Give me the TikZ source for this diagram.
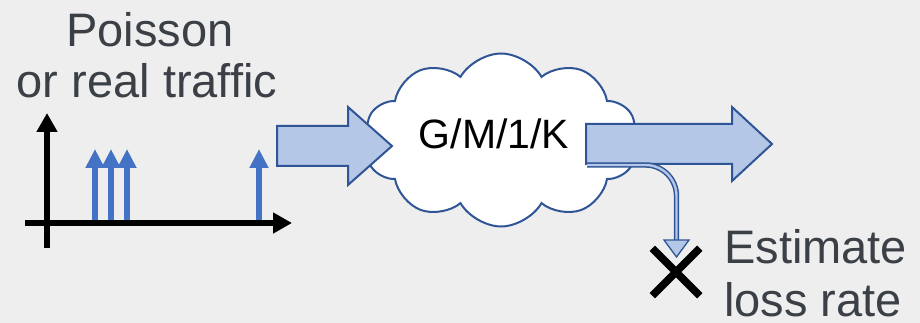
\documentclass[tikz,border=0pt]{standalone}
\usepackage{fontspec}
\setmainfont{Liberation Sans}
\usetikzlibrary{arrows.meta,shapes.symbols,shapes.misc,calc}
\definecolor{bg}{HTML}{EEEEEE}
\definecolor{dblue}{HTML}{2F5597}
\definecolor{lblue}{HTML}{B4C7E7}
\definecolor{spike}{HTML}{4472C4}
\definecolor{txt}{HTML}{3B3F46}
\tikzset{
  bigtext/.style={inner sep=0pt, text=txt, font=\fontsize{47}{51}\selectfont},
  axisline/.style={line width=6.5pt, draw=black, -{Triangle[length=19pt,width=20pt]}},
  spikeline/.style={line width=6.5pt, draw=spike, -{Triangle[length=19pt,width=18pt]}},
  blockarrow/.style={fill=lblue, draw=dblue, line width=2pt, line join=miter},
  dropline/.style={draw=dblue, double=lblue, line width=1.5pt, double distance=2.4pt, rounded corners=31pt},
}
\begin{document}
\begin{tikzpicture}[x=1pt,y=-1pt]
\fill[bg] (0,0) rectangle (920,323);
\useasboundingbox (0,0) rectangle (920,323);

% title text
\node[bigtext, anchor=base] (poisson) at (150,47) {Poisson};
\node[bigtext, anchor=base] (traffic) at (147,98) {or real traffic};

% traffic plot
\coordinate (yaxbot) at (47,248);
\coordinate (yaxtop) at (47,113);
\coordinate (xaxl) at (25,223);
\coordinate (xaxr) at (292,223);
\foreach \xx/\nm in {95/s1,111/s2,127/s3,259/s4}{
  \coordinate (\nm b) at (\xx,223);
  \coordinate (\nm t) at (\xx,149);
  \draw[spikeline] (\nm b) -- (\nm t);
}
\draw[axisline] (yaxbot) -- (yaxtop);
\draw[axisline] (xaxl) -- (xaxr);

% cloud
\node[cloud, cloud puffs=10, cloud puff arc=120, aspect=1.58, draw=dblue, fill=white,
      line width=2pt, minimum width=273pt, minimum height=173pt, inner sep=0pt] (queue) at (501,140) {};
\node[inner sep=0pt, anchor=base, text=black, font=\fontsize{41}{45}\selectfont] (gm) at (494,149) {G/M/1/K};

% input block arrow
\draw[blockarrow] (277,126) -- (348,126) -- (348,107) -- (392,146) -- (348,185) -- (348,166) -- (277,166) -- cycle;
% output block arrow
\draw[blockarrow] (586,124) -- (732,124) -- (732,107) -- (772,144) -- (732,181) -- (732,164) -- (586,164) -- cycle;

% drop arrow
\coordinate (dropstart) at (587,165);
\coordinate (dropbend) at (676.5,165);
\coordinate (headbase) at (676.5,240);
\draw[dropline] (dropstart) -- (dropbend) -- (headbase);

% loss cross
\node[cross out, draw=black, line width=7.5pt, minimum size=40pt, inner sep=0pt] (loss) at (676,272) {};
\draw[fill=lblue, draw=dblue, line width=1.3pt, line join=miter]
  ($(headbase)+(-12.5,0)$) -- ($(headbase)+(12.5,0)$) -- ($(headbase)+(0,17)$) -- cycle;

\node[bigtext, anchor=base west] (est) at (724,263) {Estimate};
\node[bigtext, anchor=base west] (lossrate) at (724,316) {loss rate};
\end{tikzpicture}
\end{document}
